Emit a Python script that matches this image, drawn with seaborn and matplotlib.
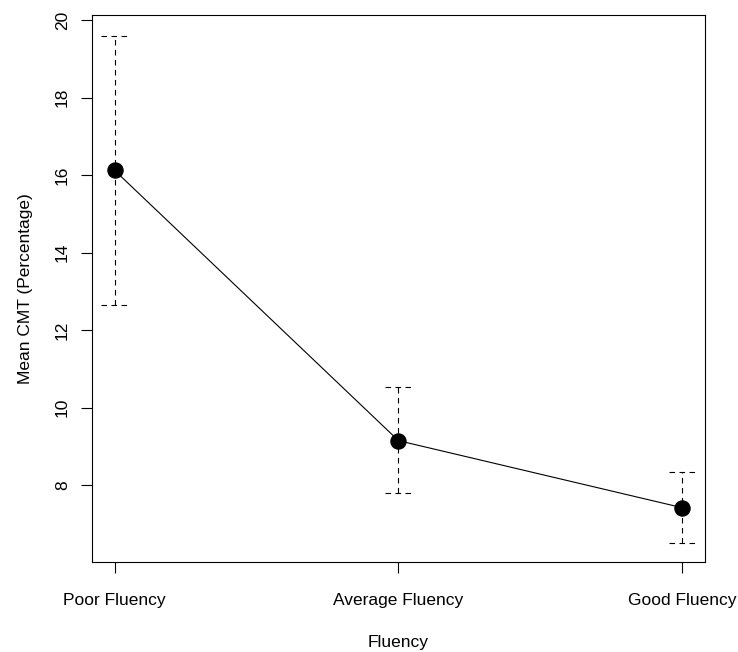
import numpy as np
import pandas as pd
import seaborn as sns
import matplotlib
matplotlib.use("Agg")
import matplotlib.pyplot as plt

# values
groups = ["Poor Fluency", "Average Fluency", "Good Fluency"]
means = [16.12, 9.15, 7.42]
upper = [19.60, 10.54, 8.35]
lower = [12.66, 7.79, 6.51]

df = pd.DataFrame({"pos": [1, 2, 3], "group": groups, "mean": means,
                   "upper": upper, "lower": lower})

sns.set_style("ticks")
plt.rcParams['font.family'] = ['Liberation Sans', 'DejaVu Sans']

fig = plt.figure(figsize=(7.38, 6.52), dpi=100)
ax = fig.add_axes([92 / 738, 1 - 562 / 652, (705 - 92) / 738, (562 - 15) / 652])

# dashed error bars with caps
dash = (0, (5, 4))
ax.vlines(df["pos"], df["lower"], df["upper"], colors="black", linewidth=0.8, linestyles=dash)
ax.hlines(df["upper"], df["pos"] - 0.048, df["pos"] + 0.048, colors="black", linewidth=0.8, linestyles=dash)
ax.hlines(df["lower"], df["pos"] - 0.048, df["pos"] + 0.048, colors="black", linewidth=0.8, linestyles=dash)

sns.lineplot(data=df, x="pos", y="mean", color="black", linewidth=0.8, ax=ax)
sns.scatterplot(data=df, x="pos", y="mean", color="black", s=120, edgecolor="black", zorder=5, ax=ax)

ax.set_xlim(0.92, 3.08)
ax.set_ylim(6.02, 20.13)
ax.set_xticks(df["pos"])
ax.set_xticklabels(groups)
ax.set_yticks([8, 10, 12, 14, 16, 18, 20])
for lbl in ax.get_yticklabels():
    lbl.set_rotation(90)
    lbl.set_va("center")

ax.tick_params(axis="both", labelsize=12.5, length=8, width=0.8, color="black", pad=8, labelcolor="black")
ax.tick_params(axis="x", pad=14)
for s in ax.spines.values():
    s.set_visible(True)
    s.set_linewidth(0.8)
    s.set_color("black")

ax.set_xlabel("Fluency", fontsize=12.5, labelpad=20, color="black")
ax.set_ylabel("Mean CMT (Percentage)", fontsize=12.5, labelpad=16, color="black")

fig.savefig("out.png", dpi=100)
